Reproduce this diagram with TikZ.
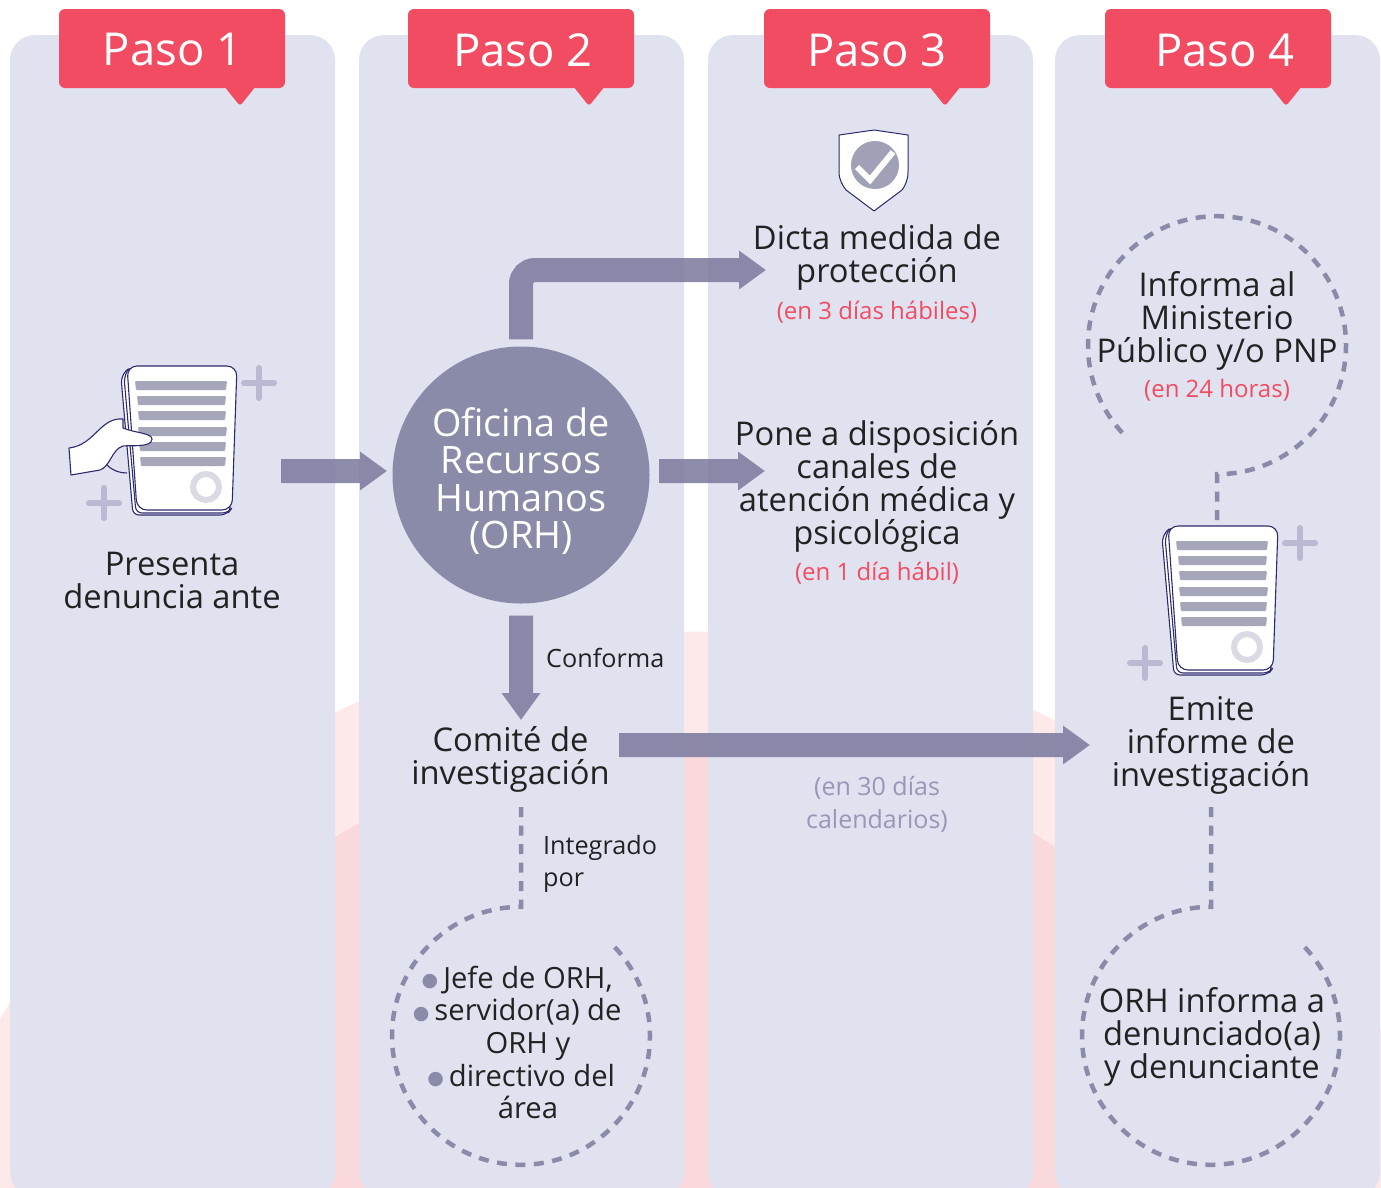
\documentclass[tikz,border=0pt]{standalone}
\usepackage{fontspec}
\setmainfont{Open Sans}
\newfontfamily\dejavu{DejaVu Sans}
\usetikzlibrary{arrows.meta, calc, positioning}
\definecolor{columnfill}{HTML}{E0E2F0}
\definecolor{pinklight}{HTML}{FDE9EA}
\definecolor{pinkdark}{HTML}{F9D9DC}
\definecolor{pasored}{HTML}{F24C62}
\definecolor{arrowfill}{HTML}{7D7C9F}
\definecolor{dashcolor}{HTML}{8A8AA9}
\definecolor{barfill}{HTML}{A6A6BB}
\definecolor{plusfill}{HTML}{B9BAD2}
\definecolor{ringfill}{HTML}{D9DAE4}
\definecolor{navyline}{HTML}{2D2A6E}
\definecolor{inktext}{HTML}{222222}
\definecolor{plazogray}{HTML}{9797B7}
\tikzset{
  body/.style={text=inktext, inner sep=0pt, align=center, font=\fontsize{32.7}{33}\selectfont},
  small/.style={text=inktext, inner sep=0pt, align=left, font=\fontsize{25.2}{32}\selectfont},
  plazo/.style={text=pasored, inner sep=0pt, align=center, font=\fontsize{24}{32}\selectfont},
  pasotitle/.style={text=white, inner sep=0pt, font=\fontsize{45.4}{45}\selectfont},
  blockarrow/.style={draw=arrowfill, line width=24pt, -{Triangle[length=27pt, width=37pt]}},
  dashline/.style={draw=dashcolor, line width=4.5pt, dash pattern=on 10pt off 8.5pt},
  sheet/.style={draw=navyline, fill=white, line width=1.1pt, line join=round},
  docicon/.pic={
    \draw[sheet, rounded corners=6pt] (-50,-74) -- (-59,-63) -- (-47,75) -- (46,75) -- (52,68) -- cycle;
    \draw[sheet, rounded corners=6pt] (-50,-74) -- (-56,-63) -- (-44,73) -- (48,73) -- (52,68) -- cycle;
    \draw[sheet, rounded corners=10pt] (-53,-74) -- (57,-74) -- (52,70) -- (-43,70) -- cycle;
    \foreach \xa/\xb/\ya in {-45/47/-59, -43/46/-44, -42/46/-29, -42/47/-13, -41/46/2, -40/46/17}
      \fill[barfill, rounded corners=1pt] (\xa,\ya) -- (\xb,\ya) -- (\xb-1,\ya+9) -- (\xa+1,\ya+9) -- cycle;
    \draw[ringfill, line width=6pt] (26,47) circle (13pt);
    \draw[plusfill, line width=6pt, line cap=round] (79,-72) -- (79,-42) (64,-57) -- (94,-57);
    \draw[plusfill, line width=6pt, line cap=round] (-76,48) -- (-76,78) (-91,63) -- (-61,63);
  }
}
\newcommand{\orhbullet}{\llap{\raisebox{1.5pt}{\color{dashcolor}\dejavu\fontsize{19}{19}\selectfont ●}\kern5pt}}
\begin{document}
\begin{tikzpicture}[x=1pt, y=-1pt]
  \clip (0,0) rectangle (1381,1187);
  % fondo
  \fill[pinklight] (687,1434) circle (802.5pt);
  \fill[pinkdark] (687,1434) circle (693pt);
  \foreach \xcol in {10, 359, 708, 1055}
    \fill[columnfill, rounded corners=25pt] (\xcol,35) rectangle (\xcol+325,1197);

  % pasos
  \foreach \xtab/\xtext/\nstep in {59/172.5/1, 408/523/2, 764/877/3, 1105/1225/4} {
    \fill[pasored, rounded corners=6pt] (\xtab,9) rectangle (\xtab+226,88);
    \fill[pasored, rounded corners=3pt] (\xtab+165,86) -- (\xtab+197,86) -- (\xtab+181,106) -- cycle;
    \node[pasotitle] (Paso\nstep) at (\xtext,50) {Paso \nstep};
  }

  % paso 1
  \pic at (180,440) {docicon};
  \draw[sheet, fill=white] (123,419) .. controls (100,417) and (95,445) .. (69,448)
    -- (71,475) -- (100,470) .. controls (110,467) and (112,449) .. (123,446)
    .. controls (130,445) and (152,448) .. (152,439) .. controls (152,433) and (135,433) .. (123,428) -- cycle;
  \draw[sheet, fill=none] (107,465) .. controls (113,471) and (120,473) .. (127,473);
  \node[body] (Presenta) at (172,580) {Presenta\\denuncia ante};

  % paso 2
  \node[circle, fill=dashcolor, minimum size=257pt, inner sep=0pt] (OficinaORH) at (521,475) {};
  \node[text=white, inner sep=0pt, align=center, font=\fontsize{37.8}{37.5}\selectfont] (OficinaText) at (521,481)
    {Oficina de\\Recursos\\Humanos\\(ORH)};
  \node[small, anchor=west] (Conforma) at (546,658) {Conforma};
  \node[body] (ComiteInv) at (510.5,759) {Comité de\\investigación};
  \node[small, anchor=west] (Integrado) at (543,864) {Integrado\\por};
  \node[circle, minimum size=258pt, inner sep=0pt] (JefeCircle) at (521,1036) {};
  \node[inner sep=0pt, text=inktext, align=center, font=\fontsize{29.2}{32.6}\selectfont] (Jefe) at (528,1042.5)
    {\orhbullet Jefe de ORH,\\\orhbullet servidor(a) de\\ORH y\\\hspace{8pt}\orhbullet directivo del\\área};

  % paso 3
  \draw[navyline, fill=white, line width=1pt, line join=round] (874,130) -- (908,135) -- (908,172)
    .. controls (908,180) and (905,186) .. (902,190) -- (874,211) -- (846,190)
    .. controls (843,186) and (839,180) .. (839,172) -- (839,135) -- cycle;
  \fill[barfill!95!navyline] (875,165) circle (24pt);
  \draw[white, line width=6pt] (857,167) -- (870,180) -- (893,152);
  \node[body] (Dicta) at (877,257.5) {Dicta medida de\\protección};
  \node[plazo] (Plazo3) at (877,312) {(en 3 días hábiles)};
  \node[body] (Pone) at (877,486.5) {Pone a disposición\\canales de\\atención médica y\\psicológica};
  \node[plazo] (Plazo1) at (877,573) {(en 1 día hábil)};
  \node[plazo, text=plazogray, font=\fontsize{25}{32.5}\selectfont] (Plazo30) at (877,804.5) {(en 30 días\\calendarios)};

  % paso 4
  \node[circle, minimum size=258pt, inner sep=0pt] (InformaCircle) at (1217,345) {};
  \node[body] (Informa) at (1217,320.5) {Informa al\\Ministerio\\Público y/o PNP};
  \node[plazo] (Plazo24) at (1217,390) {(en 24 horas)};
  \pic at (1221,600) {docicon};
  \coordinate (DocTop) at (1217,520);
  \node[body] (Emite) at (1211,745) {Emite\\informe de\\investigación};
  \node[circle, minimum size=258pt, inner sep=0pt] (OrhCircle) at (1211,1036) {};
  \node[body] (OrhInforma) at (1212,1036.5) {ORH informa a\\denunciado(a)\\y denunciante};

  % extremos de conectores
  \coordinate (PresentaOut) at (281,471);
  \coordinate (OficinaIn) at (387,471);
  \coordinate (OficinaOut) at (659,471);
  \coordinate (PoneIn) at (765,471);
  \coordinate (DictaIn) at (766,270);
  \coordinate (ComiteIn) at (521,720);
  \coordinate (ComiteOut) at (619,745);
  \coordinate (EmiteIn) at (1090,745);
  \coordinate (ComiteDash) at (521,807);
  \coordinate (EmiteDash) at (1211,807);

  % flechas
  \begin{scope}[transparency group, opacity=.88]
    \draw[blockarrow] (PresentaOut) -- (OficinaIn);
    \draw[blockarrow] (OficinaOut) -- (PoneIn);
    \draw[blockarrow, rounded corners=14pt, shorten <=7pt] (OficinaORH.north) |- (DictaIn);
    \draw[blockarrow, shorten <=12pt] (OficinaORH.south) -- (ComiteIn);
    \draw[blockarrow] (ComiteOut) -- (EmiteIn);
  \end{scope}

  % punteadas
  \draw[dashline] (ComiteDash) -- (JefeCircle.north) arc[start angle=90, end angle=405, radius=129pt];
  \draw[dashline] (EmiteDash) -- (OrhCircle.north) arc[start angle=90, end angle=405, radius=129pt];
  \draw[dashline] (DocTop) -- (InformaCircle.south) arc[start angle=-90, end angle=225, radius=129pt];
\end{tikzpicture}
\end{document}
